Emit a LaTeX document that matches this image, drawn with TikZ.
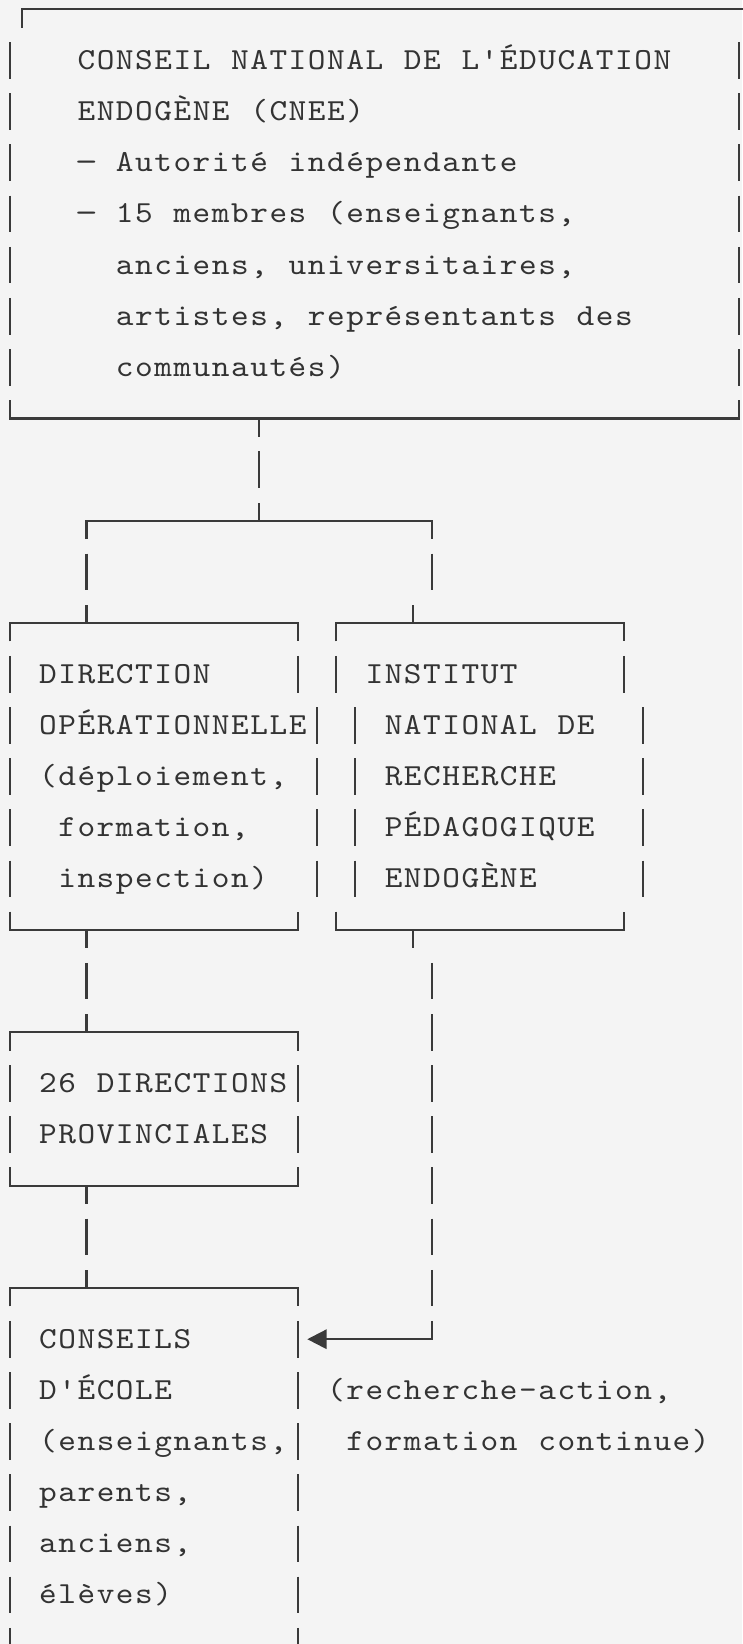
\documentclass[tikz,border=0pt]{standalone}
\usepackage{fontspec}
\usepackage{graphicx}
\usetikzlibrary{arrows.meta}
\newfontfamily\cmono{lmmono10-regular.otf}[Ligatures=TeXOff,FakeStretch=1.1]
\definecolor{ink}{HTML}{3A3A3A}
\definecolor{txtc}{HTML}{333333}
\definecolor{bg}{HTML}{F4F4F4}
\ExplSyntaxOn
\NewDocumentCommand\gridtext{m}{\str_map_inline:nn {#1}
  {\str_if_eq:nnTF {##1} {—}
     {\makebox[19.2pt][c]{\scalebox{1.3}[1]{—}}}
     {\makebox[19.2pt][c]{##1}}}}
\ExplSyntaxOff
% grid helpers: column centre x = 9.6+19.2c, row centre y = -(9.3+51.15r)
\newcommand\full[2]{\draw[ln] ({9.6+19.2*#1},{-(9.3+51.15*#2)+18.3}) -- ++(0,-36.6);}
\newcommand\stubdn[2]{\draw[ln] ({9.6+19.2*#1},{-(9.3+51.15*#2)}) -- ++(0,-18.3);}
\newcommand\stubup[2]{\draw[ln] ({9.6+19.2*#1},{-(9.3+51.15*#2)}) -- ++(0,18.3);}
\newcommand\boxtop[3]{\draw[ln] ({9.6+19.2*#2},{-(9.3+51.15*#1)-18.3}) -- ({9.6+19.2*#2},{-(9.3+51.15*#1)}) -- ({9.6+19.2*#3},{-(9.3+51.15*#1)}) -- ({9.6+19.2*#3},{-(9.3+51.15*#1)-18.3});}
\newcommand\boxbot[3]{\draw[ln] ({9.6+19.2*#2},{-(9.3+51.15*#1)+18.3}) -- ({9.6+19.2*#2},{-(9.3+51.15*#1)}) -- ({9.6+19.2*#3},{-(9.3+51.15*#1)}) -- ({9.6+19.2*#3},{-(9.3+51.15*#1)+18.3});}
\newcommand\tx[4]{\node[txt] (#1) at ({19.2*#2},{-(18.3+51.15*#3)}) {\gridtext{#4}};}
\begin{document}
\begin{tikzpicture}[x=1pt,y=1pt,
  ln/.style={draw=ink,line width=2.2pt},
  txt/.style={anchor=base west,inner sep=0pt,outer sep=0pt,text=txtc,
    font=\cmono\fontsize{30.6pt}{40pt}\selectfont}]
\fill[bg] (0,0) rectangle (742,-1644);
\useasboundingbox (0,0) rectangle (742,-1644);

% ---------- CNEE box ----------
\draw[ln] (21.7,-27.6) -- (21.7,-9.3) -- (760,-9.3);
\foreach \r in {1,...,7} {\full{0}{\r}\full{38}{\r}}
\boxbot{8}{0}{38}
\tx{c1}{4}{1}{CONSEIL NATIONAL DE L'ÉDUCATION}
\tx{c2}{4}{2}{ENDOGÈNE (CNEE)}
\tx{c3}{4}{3}{— Autorité indépendante}
\tx{c4}{4}{4}{— 15 membres (enseignants,}
\tx{c5}{6}{5}{anciens, universitaires,}
\tx{c6}{6}{6}{artistes, représentants des}
\tx{c7}{6}{7}{communautés)}

% ---------- connector CNEE -> two branches ----------
\stubdn{13}{8}
\full{13}{9}
\boxtop{10}{4}{22}
\stubup{13}{10}
\full{4}{11}
\full{22}{11}

% ---------- DIRECTION OPERATIONNELLE ----------
\boxtop{12}{0}{15}
\stubup{4}{12}
\foreach \r in {13,...,17} {\full{0}{\r}}
\full{15}{13}
\foreach \r in {14,...,17} {\full{16}{\r}}
\boxbot{18}{0}{15}
\tx{d1}{2}{13}{DIRECTION}
\tx{d2}{2}{14}{OPÉRATIONNELLE}
\tx{d3}{2}{15}{(déploiement,}
\tx{d4}{3}{16}{formation,}
\tx{d5}{3}{17}{inspection)}

% ---------- INSTITUT ----------
\boxtop{12}{17}{32}
\stubup{21}{12}
\full{17}{13}
\full{32}{13}
\foreach \r in {14,...,17} {\full{18}{\r}\full{33}{\r}}
\boxbot{18}{17}{32}
\tx{i1}{19}{13}{INSTITUT}
\tx{i2}{20}{14}{NATIONAL DE}
\tx{i3}{20}{15}{RECHERCHE}
\tx{i4}{20}{16}{PÉDAGOGIQUE}
\tx{i5}{20}{17}{ENDOGÈNE}

% ---------- left chain ----------
\stubdn{4}{18}
\full{4}{19}
\boxtop{20}{0}{15}
\stubup{4}{20}
\foreach \r in {21,22} {\full{0}{\r}\full{15}{\r}}
\boxbot{23}{0}{15}
\tx{p1}{2}{21}{26 DIRECTIONS}
\tx{p2}{2}{22}{PROVINCIALES}
\stubdn{4}{23}
\full{4}{24}
\boxtop{25}{0}{15}
\stubup{4}{25}
\foreach \r in {26,...,32} {\full{0}{\r}\full{15}{\r}}
\tx{e1}{2}{26}{CONSEILS}
\tx{e2}{2}{27}{D'ÉCOLE}
\tx{e3}{2}{28}{(enseignants,}
\tx{e4}{2}{29}{parents,}
\tx{e5}{2}{30}{anciens,}
\tx{e6}{2}{31}{élèves)}

% ---------- right chain (INSTITUT -> CONSEILS) ----------
\stubdn{21}{18}
\foreach \r in {19,...,25} {\full{22}{\r}}
\coordinate (rtop) at ({9.6+19.2*22},{-(9.3+51.15*26)+18.3});
\coordinate (rcorner) at ({9.6+19.2*22},{-(9.3+51.15*26)});
\coordinate (ecolein) at (307.3,{-(9.3+51.15*26)});
\draw[ln,-{Triangle[length=19.4pt,width=19.4pt]}] (rtop) -- (rcorner) -- (ecolein);
\tx{a1}{17}{27}{(recherche-action,}
\tx{a2}{18}{28}{formation continue)}
\end{tikzpicture}
\end{document}
